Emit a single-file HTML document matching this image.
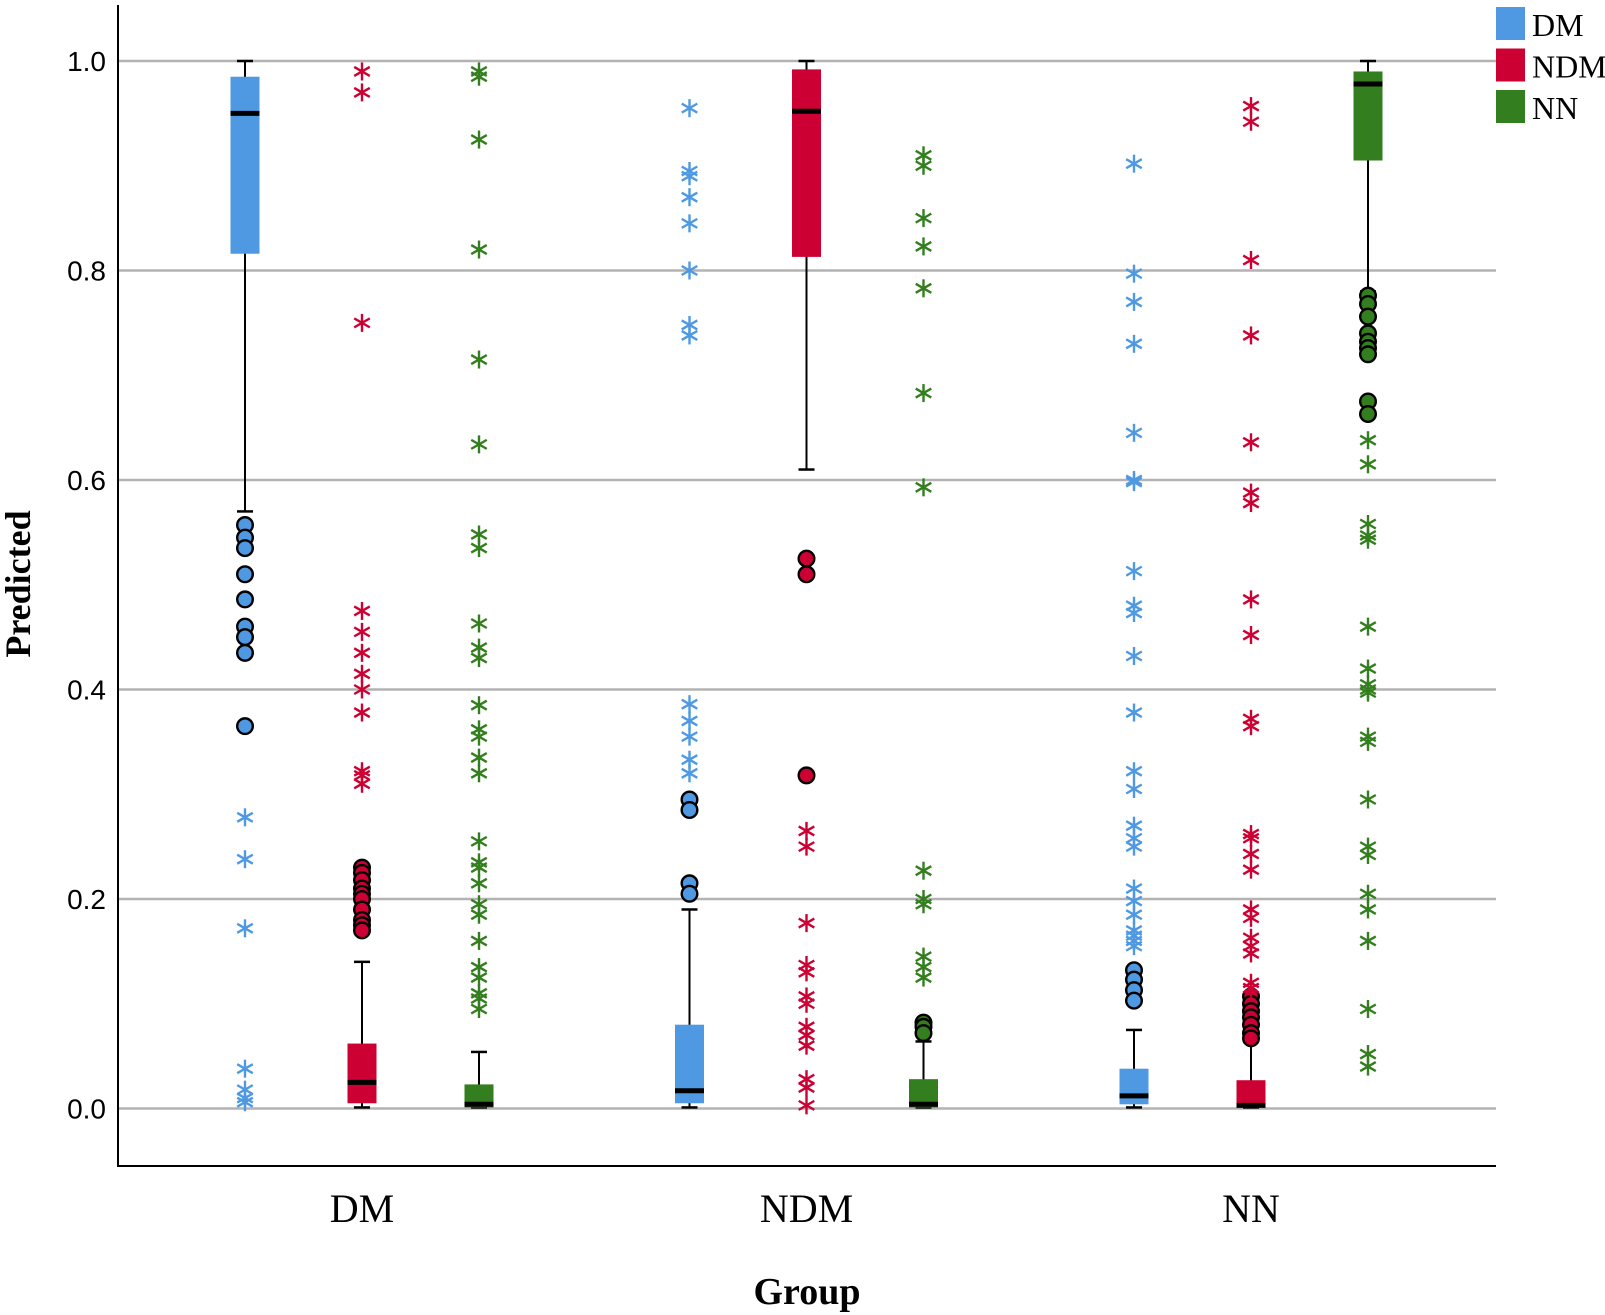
<!DOCTYPE html>
<html><head><meta charset="utf-8"><style>
html,body{margin:0;padding:0;background:#fff;}
svg{display:block;}
</style></head><body>
<svg id="chart" width="1605" height="1315" viewBox="0 0 1605 1315" xmlns="http://www.w3.org/2000/svg">
<g id="grid"></g>
<g id="marks"></g>
<line x1="118" y1="5" x2="118" y2="1166" stroke="#000" stroke-width="2"/>
<line x1="117" y1="1166" x2="1496" y2="1166" stroke="#000" stroke-width="2"/>
<g id="yticks" font-family="Liberation Sans, sans-serif" font-size="28" fill="#000" text-anchor="end"></g>
<g id="xticks" font-family="Liberation Serif, serif" font-size="40" fill="#000" text-anchor="middle"></g>
<text transform="translate(30,584) rotate(-90)" font-family="Liberation Serif, serif" font-weight="bold" font-size="36" text-anchor="middle">Predicted</text>
<text x="807" y="1304" font-family="Liberation Serif, serif" font-weight="bold" font-size="38" text-anchor="middle">Group</text>
<g id="legend" font-family="Liberation Serif, serif" font-size="32"></g>
</svg>
<script>
const groups = ["DM","NDM","NN"];
const seriesNames = ["DM","NDM","NN"];
const colors = ["#4e99e2","#cc0033","#337e1e"];
const yTicks = [0.0,0.2,0.4,0.6,0.8,1.0];
const yTickLabels = ["0.0","0.2","0.4","0.6","0.8","1.0"];
// [groupIdx][seriesIdx] = [whiskerLow, q1, median, q3, whiskerHigh]
const boxStats = [
 [[0.57,0.816,0.95,0.985,1.0],[0.001,0.005,0.025,0.062,0.14],[0.001,0.001,0.004,0.023,0.054]],
 [[0.001,0.005,0.017,0.08,0.19],[0.61,0.813,0.952,0.992,1.0],[0.001,0.001,0.004,0.028,0.064]],
 [[0.001,0.004,0.012,0.038,0.075],[0.001,0.001,0.003,0.027,0.065],[0.78,0.905,0.978,0.99,1.0]]
];
const circleOutliers = [
 [[0.557,0.545,0.535,0.51,0.486,0.46,0.45,0.435,0.365],[0.23,0.225,0.218,0.21,0.205,0.2,0.19,0.18,0.175,0.17],[]],
 [[0.295,0.285,0.215,0.205],[0.525,0.51,0.318],[0.082,0.078,0.072]],
 [[0.132,0.123,0.113,0.103],[0.107,0.1,0.093,0.087,0.08,0.072,0.067],[0.776,0.768,0.756,0.74,0.732,0.726,0.72,0.675,0.663]]
];
const starOutliers = [
 [[0.278,0.238,0.172,0.038,0.018,0.01,0.006],
  [0.99,0.97,0.75,0.475,0.455,0.435,0.415,0.4,0.378,0.322,0.318,0.31],
  [0.99,0.985,0.925,0.82,0.715,0.634,0.548,0.535,0.463,0.44,0.43,0.385,0.362,0.355,0.335,0.32,0.255,0.235,0.23,0.215,0.195,0.185,0.16,0.135,0.125,0.11,0.105,0.095]],
 [[0.955,0.895,0.89,0.87,0.845,0.8,0.748,0.738,0.386,0.37,0.355,0.333,0.32],
  [0.265,0.25,0.177,0.137,0.13,0.107,0.1,0.078,0.07,0.06,0.028,0.02,0.003],
  [0.91,0.9,0.85,0.823,0.783,0.683,0.593,0.227,0.2,0.195,0.145,0.135,0.125]],
 [[0.902,0.797,0.77,0.73,0.645,0.6,0.598,0.513,0.48,0.473,0.432,0.378,0.322,0.305,0.27,0.258,0.25,0.21,0.198,0.185,0.17,0.165,0.16,0.155],
  [0.957,0.942,0.81,0.738,0.636,0.588,0.578,0.486,0.452,0.372,0.365,0.262,0.258,0.243,0.228,0.19,0.182,0.163,0.155,0.148,0.12,0.115],
  [0.638,0.615,0.558,0.547,0.543,0.46,0.42,0.405,0.4,0.397,0.355,0.35,0.295,0.25,0.242,0.205,0.19,0.16,0.095,0.052,0.04]]
];

const NS = "http://www.w3.org/2000/svg";
function y(v){ return 1108.5 - v*1047.5; }
function groupX(g){ return 362 + g*444.5; }
function seriesX(g,s){ return groupX(g) + (s-1)*117; }
function mk(tag, attrs, parent){ const e=document.createElementNS(NS,tag); for(const k in attrs) e.setAttribute(k,attrs[k]); parent.appendChild(e); return e; }

const grid=document.getElementById('grid'), marks=document.getElementById('marks');
const yt=document.getElementById('yticks'), xt=document.getElementById('xticks'), lg=document.getElementById('legend');

yTicks.forEach((v,i)=>{
  const l=mk('line',{x1:118,x2:1496,y1:y(v),y2:y(v),stroke:'#b3b3b3','stroke-width':2.5},grid);
  
  
  const t=mk('text',{x:106,y:y(v)+10},yt);
  t.textContent=yTickLabels[i];
  
  
});
groups.forEach((g,i)=>{
  const t=mk('text',{x:groupX(i),y:1222},xt);
  t.textContent=g;
  
  
});

function star(cx,cy,color,parent){
  const gEl=mk('g',{stroke:color,'stroke-width':2.4},parent);
  
  
  const r=9;
  for(let k=0;k<3;k++){
    const a=Math.PI/2 + k*Math.PI/3;
    mk('line',{x1:cx+r*Math.cos(a),y1:cy+r*Math.sin(a),x2:cx-r*Math.cos(a),y2:cy-r*Math.sin(a)},gEl);
  }
}

for(let g=0; g<3; g++){
  for(let s=0; s<3; s++){
    const cx=seriesX(g,s), st=boxStats[g][s], col=colors[s];
    const grp=mk('g',{},marks);
    
    
    mk('line',{x1:cx,x2:cx,y1:y(st[0]),y2:y(st[4]),stroke:'#000','stroke-width':2},grp);
    mk('line',{x1:cx-8,x2:cx+8,y1:y(st[0]),y2:y(st[0]),stroke:'#000','stroke-width':2.5},grp);
    mk('line',{x1:cx-8,x2:cx+8,y1:y(st[4]),y2:y(st[4]),stroke:'#000','stroke-width':2.5},grp);
    mk('rect',{x:cx-14.5,y:y(st[3]),width:29,height:Math.max(1,y(st[1])-y(st[3])),fill:col},grp);
    mk('line',{x1:cx-14.5,x2:cx+14.5,y1:y(st[2]),y2:y(st[2]),stroke:'#000','stroke-width':5},grp);
    circleOutliers[g][s].forEach(v=>{
      const c=mk('circle',{cx:cx,cy:y(v),r:7.8,fill:col,stroke:'#000','stroke-width':2.4},grp);
      
      
    });
    starOutliers[g][s].forEach(v=>star(cx,y(v),col,grp));
  }
}

seriesNames.forEach((n,i)=>{
  const top=7+i*41.5;
  const r=mk('rect',{x:1496,y:top,width:29,height:33,fill:colors[i]},lg);
  
  
  const t=mk('text',{x:1532,y:top+29},lg);
  t.textContent=n;
  
  
});
</script>
</body></html>
